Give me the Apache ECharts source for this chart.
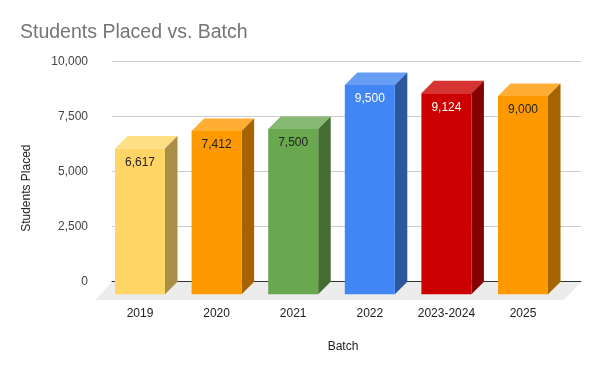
<!DOCTYPE html>
<html>
<head>
<meta charset="utf-8">
<script src="https://cdn.jsdelivr.net/npm/echarts@6/dist/echarts.min.js"></script>
<style>html,body{margin:0;padding:0;background:#fff;}#c{width:600px;height:371px;}</style>
</head>
<body>
<div id="c"></div>
<script>
var categories = ['2019', '2020', '2021', '2022', '2023-2024', '2025'];
var studentsPlaced = [6617, 7412, 7500, 9500, 9124, 9000];
var yTicks = [0, 2500, 5000, 7500, 10000];

var frontColors = ['#FFD666', '#FF9900', '#6AA84F', '#4285F4', '#CC0000', '#FF9900'];
var topColors   = ['#FFDF86', '#FFAD33', '#88B972', '#689DF6', '#D63333', '#FFAD33'];
var sideColors  = ['#A98F45', '#A66300', '#456D33', '#2B579F', '#850000', '#A66300'];
var labelColors = ['#222', '#222', '#222', '#fff', '#fff', '#222'];

var FONT = '"Liberation Sans", Arial, sans-serif';
var DEPTH = 12.5;
var chart = echarts.init(document.getElementById('c'), null, {renderer: 'canvas'});

function fmt(v) { return v.toLocaleString('en-US'); }

var option = {
  animation: false,
  textStyle: {fontFamily: FONT},
  title: [
    {text: 'Students Placed vs. Batch', left: 15, top: 18,
     textStyle: {fontFamily: FONT, fontSize: 19.5, fontWeight: 'normal', color: '#757575'}},
    {text: 'Batch', left: 338, top: 336, textAlign: 'center',
     textStyle: {fontFamily: FONT, fontSize: 12, fontWeight: 'normal', color: '#222'}}
  ],
  graphic: [
    {type: 'polygon', z: -10, silent: true,
     shape: {points: [[112, 282], [581, 282], [564, 300], [95, 300]]},
     style: {fill: '#ececec'}}
  ],
  grid: [
    {left: 112, right: 19, top: 61.5, bottom: 89.5},
    {left: 101.7, right: 38.7, top: 74, bottom: 76.7}
  ],
  xAxis: [
    {type: 'category', gridIndex: 0, data: categories, z: 3,
     axisLine: {show: true, lineStyle: {color: '#333', width: 1}},
     axisTick: {show: false}, axisLabel: {show: false}, splitLine: {show: false}},
    {type: 'category', gridIndex: 1, data: categories,
     axisLine: {show: false}, axisTick: {show: false},
     axisLabel: {fontFamily: FONT, fontSize: 12, color: '#222', margin: 13}}
  ],
  yAxis: [
    {type: 'value', gridIndex: 0, min: yTicks[0], max: yTicks[yTicks.length - 1], interval: 2500,
     axisLine: {show: false}, axisTick: {show: false},
     axisLabel: {fontFamily: FONT, fontSize: 12, color: '#444', margin: 24,
                 formatter: function (v) { return fmt(v); }},
     splitLine: {lineStyle: {color: '#cccccc', width: 1}}},
    {type: 'value', gridIndex: 1, min: 0, max: 10000,
     name: 'Students Placed', nameLocation: 'middle', nameGap: 69,
     nameTextStyle: {fontFamily: FONT, fontSize: 12, color: '#222', padding: [0, 8, 0, 0]},
     axisLine: {show: false}, axisTick: {show: false}, axisLabel: {show: false},
     splitLine: {show: false}}
  ],
  series: [
    {
      type: 'custom',
      xAxisIndex: 1, yAxisIndex: 1,
      z: 5,
      data: studentsPlaced.map(function (v, i) { return [i, v]; }),
      renderItem: function (params, api) {
        var i = api.value(0);
        var v = api.value(1);
        var top = api.coord([i, v]);
        var base = api.coord([i, 0]);
        var band = api.size([1, 0])[0];
        var w = band * 0.653;
        var x0 = top[0] - w / 2, x1 = top[0] + w / 2;
        var yT = top[1], yB = base[1];
        var d = DEPTH;
        return {
          type: 'group',
          children: [
            {type: 'polygon', shape: {points: [[x0, yT], [x0 + d, yT - d], [x1 + d, yT - d], [x1, yT]]},
             style: {fill: topColors[i]}},
            {type: 'polygon', shape: {points: [[x1, yT], [x1 + d, yT - d], [x1 + d, yB - d], [x1, yB]]},
             style: {fill: sideColors[i]}},
            {type: 'rect', shape: {x: x0, y: yT, width: w, height: yB - yT},
             style: {fill: frontColors[i]}},
            {type: 'text', x: top[0], y: yT + 14,
             style: {text: fmt(v), fontFamily: FONT, fontSize: 12, fill: labelColors[i],
                     align: 'center', verticalAlign: 'middle'}}
          ]
        };
      }
    }
  ]
};
chart.setOption(option);
</script>
</body>
</html>
